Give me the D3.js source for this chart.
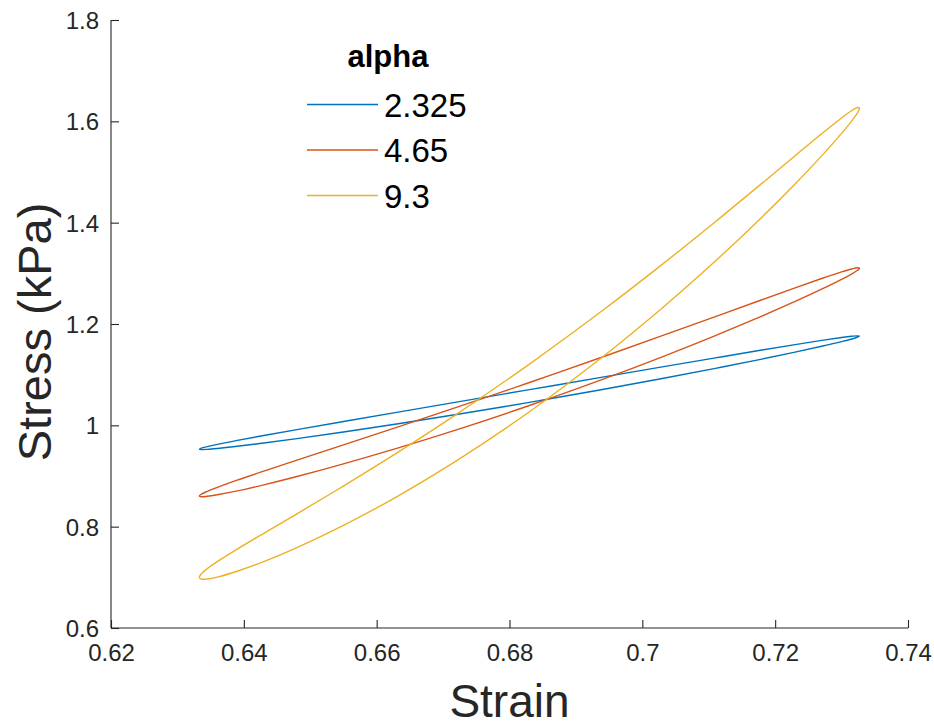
<!DOCTYPE html>
<html>
<head>
<meta charset="utf-8">
<script src="https://cdn.jsdelivr.net/npm/d3@7"></script>
<style>
  html, body { margin: 0; padding: 0; background: #fff; }
  svg { display: block; }
  text { font-family: "Liberation Sans", Arial, Helvetica, sans-serif; fill: #262626; }
</style>
</head>
<body>
<svg id="chart" width="934" height="726"></svg>
<script>
// ---- Data ----
const strain = [0.6333, 0.6336, 0.6345, 0.636, 0.639, 0.643, 0.648, 0.655, 0.663, 0.672, 0.683,
                0.694, 0.703, 0.711, 0.718, 0.723, 0.727, 0.730, 0.7315, 0.7324, 0.7327];

const blueUpper   = [0.9530, 0.9550, 0.9581, 0.9624, 0.9702, 0.9799, 0.9915, 1.0075, 1.0255, 1.0457, 1.0704,
                     1.0951, 1.1153, 1.1331, 1.1486, 1.1593, 1.1676, 1.1733, 1.1757, 1.1766, 1.1760];
const blueLower   = [0.9530, 0.9522, 0.9526, 0.9543, 0.9586, 0.9650, 0.9738, 0.9868, 1.0027, 1.0214, 1.0454,
                     1.0707, 1.0924, 1.1125, 1.1308, 1.1445, 1.1560, 1.1652, 1.1703, 1.1739, 1.1760];

const orangeUpper = [0.8605, 0.8641, 0.8698, 0.8776, 0.8918, 0.9096, 0.9313, 0.9614, 0.9959, 1.0353, 1.0845,
                     1.1348, 1.1769, 1.2147, 1.2479, 1.2714, 1.2898, 1.3028, 1.3085, 1.3110, 1.3101];
const orangeLower = [0.8605, 0.8591, 0.8599, 0.8629, 0.8706, 0.8826, 0.8990, 0.9239, 0.9544, 0.9911, 1.0391,
                     1.0906, 1.1353, 1.1772, 1.2156, 1.2445, 1.2687, 1.2880, 1.2986, 1.3060, 1.3101];

const yellowUpper = [0.7000, 0.7069, 0.7172, 0.7310, 0.7557, 0.7869, 0.8254, 0.8802, 0.9450, 1.0216, 1.1209,
                     1.2266, 1.3177, 1.4019, 1.4775, 1.5321, 1.5755, 1.6067, 1.6209, 1.6273, 1.6260];
const yellowLower = [0.7000, 0.6966, 0.6967, 0.7005, 0.7120, 0.7311, 0.7587, 0.8025, 0.8590, 0.9300, 1.0269,
                     1.1349, 1.2316, 1.3242, 1.4108, 1.4764, 1.5318, 1.5762, 1.6003, 1.6170, 1.6260];

const seriesNames = ["2.325", "4.65", "9.3"];
const seriesColors = ["#0072BD", "#D95319", "#EDB120"];
const xTicks = [0.62, 0.64, 0.66, 0.68, 0.70, 0.72, 0.74];
const yTicks = [0.6, 0.8, 1.0, 1.2, 1.4, 1.6, 1.8];
const legendTitle = "alpha";
const xLabel = "Strain";
const yLabel = "Stress (kPa)";

const series = [
  { name: seriesNames[0], color: seriesColors[0], upper: blueUpper, lower: blueLower },
  { name: seriesNames[1], color: seriesColors[1], upper: orangeUpper, lower: orangeLower },
  { name: seriesNames[2], color: seriesColors[2], upper: yellowUpper, lower: yellowLower }
];

// ---- Layout ----
const svg = d3.select("#chart");
const mLeft = 111, mRight = 908, mTop = 20, mBottom = 628;

const x = d3.scaleLinear().domain([0.62, 0.74]).range([mLeft, mRight]);
const y = d3.scaleLinear().domain([0.6, 1.8]).range([mBottom, mTop]);

// Loops
const line = d3.line().x(d => x(d[0])).y(d => y(d[1])).curve(d3.curveCatmullRomClosed.alpha(0.5));

series.forEach(s => {
  const pts = [];
  strain.forEach((e, i) => pts.push([e, s.upper[i]]));
  for (let i = strain.length - 2; i >= 1; i--) pts.push([strain[i], s.lower[i]]);
  svg.append("path")
    .attr("d", line(pts))
    .attr("fill", "none")
    .attr("stroke", s.color)
    .attr("stroke-width", 1.4);
});

// Axes
const axisColor = "#262626";
const xAxis = d3.axisBottom(x).tickValues(xTicks).tickSize(-8).tickPadding(16)
  .tickFormat(d => d3.format("~g")(d));
const yAxis = d3.axisLeft(y).tickValues(yTicks).tickSize(-8).tickPadding(12)
  .tickFormat(d => d3.format("~g")(d));

const gx = svg.append("g").attr("transform", `translate(0,${mBottom})`).call(xAxis);
const gy = svg.append("g").attr("transform", `translate(${mLeft},0)`).call(yAxis);

[gx, gy].forEach(g => {
  g.select(".domain").attr("stroke", axisColor).attr("stroke-width", 1.1);
  g.selectAll(".tick line").attr("stroke", axisColor).attr("stroke-width", 1.1);
  g.selectAll(".tick text")
    .attr("fill", axisColor)
    .style("font-size", "24px")
    .style("font-family", '"Liberation Sans", Arial, sans-serif');
});
gx.select(".domain").attr("d", `M${mLeft},0H${mRight}`);
gy.select(".domain").attr("d", `M0,${mBottom}V${mTop}`);
gx.selectAll(".tick text").attr("dy", "0.71em");
gy.selectAll(".tick text").attr("dy", "0.35em");

// Axis labels
svg.append("text")
  .attr("x", (mLeft + mRight) / 2)
  .attr("y", 717)
  .attr("text-anchor", "middle")
  .style("font-size", "46px")
  .text(xLabel);

svg.append("text")
  .attr("transform", `translate(51,${(mTop + mBottom) / 2 + 8}) rotate(-90)`)
  .attr("text-anchor", "middle")
  .style("font-size", "47px")
  .text(yLabel);

// Legend
const lg = svg.append("g");
lg.append("text")
  .attr("x", 388)
  .attr("y", 67)
  .attr("text-anchor", "middle")
  .style("font-size", "31px")
  .style("font-weight", "bold")
  .style("fill", "#000")
  .text(legendTitle);

series.forEach((s, i) => {
  const yy = 104.5 + i * 45.5;
  lg.append("line")
    .attr("x1", 307).attr("x2", 378)
    .attr("y1", yy).attr("y2", yy)
    .attr("stroke", s.color).attr("stroke-width", 1.4);
  lg.append("text")
    .attr("x", 384)
    .attr("y", yy + 12)
    .style("font-size", "33px")
    .style("fill", "#000")
    .text(s.name);
});
</script>
</body>
</html>
